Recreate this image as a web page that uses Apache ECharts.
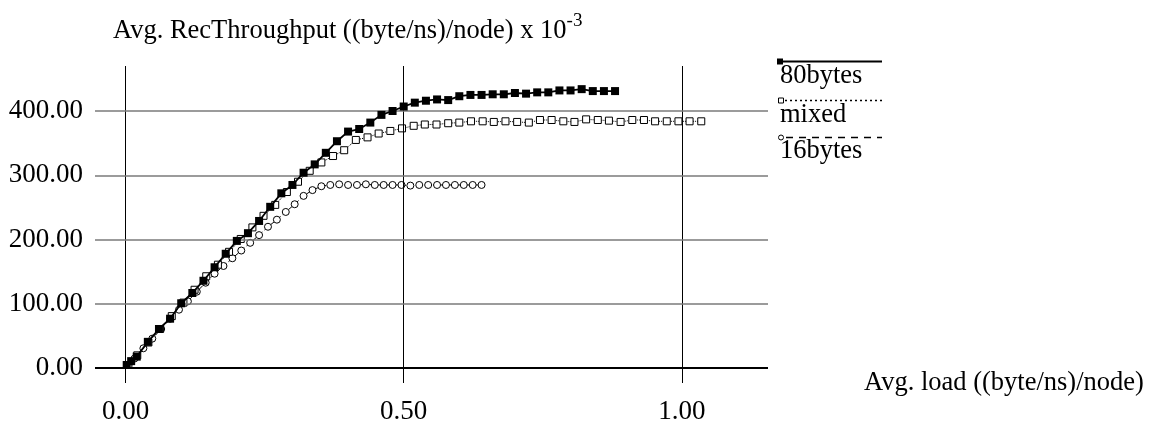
<!DOCTYPE html>
<html>
<head>
<meta charset="utf-8">
<script src="https://cdn.jsdelivr.net/npm/echarts@6/dist/echarts.min.js"></script>
<style>
  html, body { margin: 0; padding: 0; background: #fff; }
  #chart { width: 1155px; height: 432px; }
</style>
</head>
<body>
<div id="chart"></div>
<script>
// 80bytes
var load80 = [0.002, 0.01, 0.02, 0.04, 0.06, 0.08, 0.10, 0.12, 0.14, 0.16, 0.18, 0.20, 0.22, 0.24, 0.26, 0.28, 0.30,
    0.32, 0.34, 0.36, 0.38, 0.40, 0.42, 0.44, 0.46, 0.48, 0.50, 0.52, 0.54, 0.56, 0.58, 0.60, 0.62, 0.64,
    0.66, 0.68, 0.70, 0.72, 0.74, 0.76, 0.78, 0.80, 0.82, 0.84, 0.86, 0.88];
var thr80 = [5, 11, 18, 41, 61, 77, 101, 117, 136, 157, 178, 198, 210, 229, 251, 272, 285,
    304, 317, 335, 353, 368, 372, 382, 394, 400, 407, 413, 416, 418, 417, 423, 425, 425,
    426, 426, 428, 427, 429, 429, 432, 432, 434, 431, 431, 431];

// mixed
var loadMixed = [0.005, 0.021, 0.041, 0.062, 0.083, 0.104, 0.124, 0.145, 0.166, 0.186, 0.207, 0.228, 0.248, 0.269,
    0.290, 0.310, 0.331, 0.352, 0.373, 0.393, 0.414, 0.435, 0.455, 0.476, 0.497, 0.518, 0.538, 0.559,
    0.580, 0.600, 0.621, 0.642, 0.662, 0.683, 0.704, 0.725, 0.745, 0.766, 0.787, 0.807, 0.828, 0.849,
    0.869, 0.890, 0.911, 0.932, 0.952, 0.973, 0.994, 1.014, 1.035];
var thrMixed = [5, 20, 40, 61, 81, 102, 122, 143, 161, 181, 201, 219, 237, 254,
    274, 290, 307, 320, 330, 339, 355, 359, 365, 369, 373, 377, 379, 379,
    381, 382, 384, 384, 383, 384, 383, 382, 386, 386, 384, 383, 387, 386,
    385, 383, 386, 386, 384, 384, 384, 384, 384];

// 16bytes
var load16 = [0.005, 0.016, 0.032, 0.048, 0.064, 0.080, 0.096, 0.112, 0.128, 0.144, 0.160, 0.176, 0.192, 0.208,
    0.224, 0.240, 0.256, 0.272, 0.288, 0.304, 0.320, 0.336, 0.352, 0.368, 0.384, 0.400, 0.416, 0.432,
    0.448, 0.464, 0.480, 0.496, 0.512, 0.528, 0.544, 0.560, 0.576, 0.592, 0.608, 0.624, 0.640];
var thr16 = [5, 15, 31, 46, 61, 77, 91, 104, 119, 133, 147, 159, 171, 183,
    195, 207, 220, 231, 243, 255, 268, 277, 283, 285, 286, 285, 285, 286,
    285, 285, 285, 285, 284, 285, 285, 285, 285, 285, 285, 285, 285];

var xTicks = [0, 0.5, 1.0];
var yTicks = [0, 100, 200, 300, 400];

var font = "'Liberation Serif', 'Times New Roman', serif";

function pairs(xs, ys) {
    var out = [];
    for (var i = 0; i < xs.length; i++) out.push([xs[i], ys[i]]);
    return out;
}

(function () {
    var myChart = echarts.init(document.getElementById('chart'), null, { renderer: 'canvas' });

    // 网格线
    var gridLines = [];
    xTicks.forEach(function (v) {
        gridLines.push({ xAxis: v, lineStyle: { color: '#000', width: 1, type: 'solid' } });
    });
    yTicks.forEach(function (v) {
        gridLines.push({ yAxis: v, lineStyle: { color: v === 0 ? '#000' : '#7a7a7a', width: v === 0 ? 2 : 1.5, type: 'solid' } });
    });

    var option = {
        animation: false,
        backgroundColor: '#fff',
        textStyle: { fontFamily: font, color: '#000' },
        title: {
            left: 108,
            top: 7,
            text: '{a|Avg. RecThroughput ((byte/ns)/node) x 10}{s|-3}',
            textStyle: {
                fontWeight: 'normal',
                rich: {
                    a: { fontFamily: font, fontSize: 26.5, color: '#000', fontWeight: 'normal' },
                    s: { fontFamily: font, fontSize: 19, color: '#000', fontWeight: 'normal', verticalAlign: 'top', padding: [0, 0, 20, 0] }
                }
            }
        },
        grid: {
            left: 95,
            right: 387,
            top: 66,
            bottom: 49,
            containLabel: false,
            outerBoundsMode: 'none'
        },
        xAxis: {
            type: 'value',
            min: -0.055,
            max: 1.155,
            name: 'Avg. load ((byte/ns)/node)',
            nameLocation: 'end',
            nameGap: 96,
            nameTextStyle: { fontFamily: font, fontSize: 26.5, color: '#000', verticalAlign: 'middle', align: 'left' },
            axisLine: { show: false, onZero: false },
            axisTick: { show: false },
            splitLine: { show: false },
            axisLabel: {
                customValues: xTicks,
                margin: 15,
                fontFamily: font,
                fontSize: 27,
                color: '#000',
                formatter: function (v) { return v.toFixed(2); }
            }
        },
        yAxis: {
            type: 'value',
            min: -23,
            max: 470,
            axisLine: { show: false, onZero: false },
            axisTick: { show: false },
            splitLine: { show: false },
            axisLabel: {
                customValues: yTicks,
                margin: 12,
                fontFamily: font,
                fontSize: 27,
                color: '#000',
                formatter: function (v) { return v.toFixed(2); }
            }
        },
        series: [
            {
                name: 'grid',
                type: 'line',
                data: [],
                z: 1,
                silent: true,
                markLine: {
                    silent: true,
                    symbol: ['none', 'none'],
                    label: { show: false },
                    animation: false,
                    data: gridLines
                }
            },
            {
                name: '16bytes',
                type: 'line',
                z: 3,
                data: pairs(load16, thr16),
                symbol: 'circle',
                symbolSize: 7,
                showAllSymbol: true,
                lineStyle: { color: '#000', width: 1, type: [5, 3] },
                itemStyle: { color: '#fff', borderColor: '#000', borderWidth: 1 }
            },
            {
                name: 'mixed',
                type: 'line',
                z: 4,
                data: pairs(loadMixed, thrMixed),
                symbol: 'rect',
                symbolSize: 7,
                showAllSymbol: true,
                lineStyle: { color: '#000', width: 1, type: 'dotted' },
                itemStyle: { color: '#fff', borderColor: '#000', borderWidth: 1 }
            },
            {
                name: '80bytes',
                type: 'line',
                z: 5,
                data: pairs(load80, thr80),
                symbol: 'rect',
                symbolSize: 8,
                showAllSymbol: true,
                lineStyle: { color: '#000', width: 1.8 },
                itemStyle: { color: '#000' }
            }
        ],
        graphic: [
            // 图例 80bytes
            { type: 'line', shape: { x1: 780, y1: 61.5, x2: 882, y2: 61.5 }, style: { stroke: '#000', lineWidth: 2 } },
            { type: 'rect', shape: { x: 777, y: 58.5, width: 6, height: 6 }, style: { fill: '#000' } },
            { type: 'text', x: 780, y: 76, style: { text: '80bytes', font: '26.5px ' + font, fill: '#000', verticalAlign: 'middle' } },
            // 图例 mixed
            { type: 'line', shape: { x1: 785, y1: 100.5, x2: 882, y2: 100.5 }, style: { stroke: '#000', lineWidth: 1.5, lineDash: [2, 3] } },
            { type: 'rect', shape: { x: 778.5, y: 98, width: 5, height: 5 }, style: { fill: '#fff', stroke: '#000', lineWidth: 1 } },
            { type: 'text', x: 780, y: 115, style: { text: 'mixed', font: '26.5px ' + font, fill: '#000', verticalAlign: 'middle' } },
            // 图例 16bytes
            { type: 'line', shape: { x1: 786, y1: 137.5, x2: 882, y2: 137.5 }, style: { stroke: '#000', lineWidth: 1.5, lineDash: [7, 6] } },
            { type: 'circle', shape: { cx: 781, cy: 137.5, r: 2.5 }, style: { fill: '#fff', stroke: '#000', lineWidth: 1 } },
            { type: 'text', x: 780, y: 151, style: { text: '16bytes', font: '26.5px ' + font, fill: '#000', verticalAlign: 'middle' } }
        ]
    };
    myChart.setOption(option);
    window.addEventListener('resize', function () {
        myChart.resize();
    });
})();
</script>
</body>
</html>
